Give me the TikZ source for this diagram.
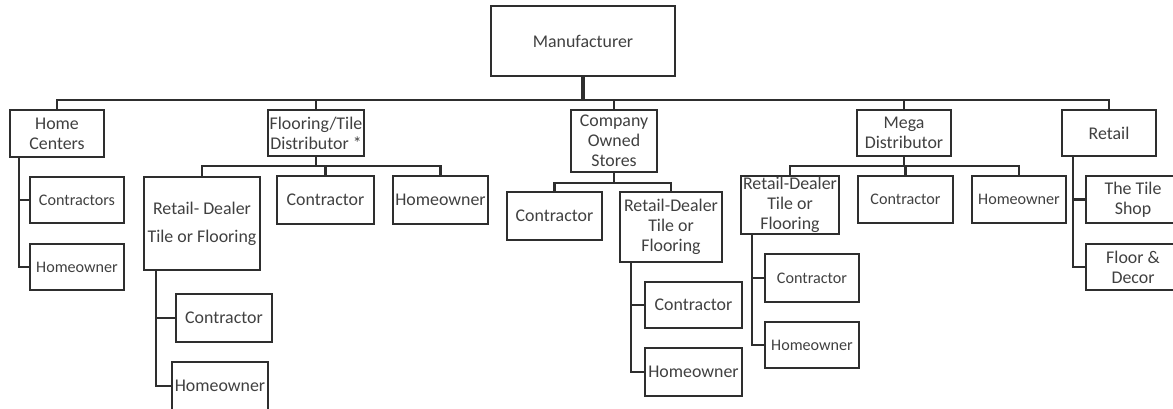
\documentclass[tikz,border=0pt]{standalone}
\usepackage{fontspec}
\setmainfont{Carlito}
\definecolor{linec}{HTML}{2E2E2E}
\definecolor{textc}{HTML}{404040}
\tikzset{
  box/.style={draw=linec, line width=1.55pt, rectangle, inner sep=0pt, align=center,
    text=textc, font=\fontsize{13.4}{15}\selectfont},
  small/.style={font=\fontsize{12.1}{14}\selectfont},
  bw/.style={minimum width=#1*0.75pt},
  bh/.style={minimum height=#1*0.75pt},
  conn/.style={draw=linec, line width=1.55pt},
}
\begin{document}
\begin{tikzpicture}[x=0.75pt,y=-0.75pt]
\clip (0,0) rectangle (1173,408);
% level 0
\node[box,bw=184,bh=70] (man) at (583,41) {Manufacturer};
% level 1
\node[box,bw=94,bh=47] (hc)  at (57,133.5) {Home\\Centers};
\node[box,bw=96,bh=46] (ftd) at (316,133) {Flooring/Tile\\Distributor *};
\node[box,bw=86,bh=62] (cos) at (614,141) {Company\\Owned\\Stores};
\node[box,bw=94,bh=46] (md)  at (904,133) {Mega\\Distributor};
\node[box,bw=94,bh=46] (ret) at (1109,133) {Retail};
% Home Centers children
\node[box,small,bw=94,bh=46] (hcC) at (77,200) {Contractors};
\node[box,small,bw=94,bh=46] (hcH) at (77,267) {Homeowner};
% Flooring children
\node[box,bw=116,bh=93,font=\fontsize{13.4}{21}\selectfont] (ftdR) at (202,223.5) {Retail- Dealer\\Tile or Flooring};
\node[box,bw=97,bh=48] (ftdC) at (325.5,200) {Contractor};
\node[box,bw=95,bh=48] (ftdH) at (440.5,200) {Homeowner};
\node[box,bw=96,bh=48] (ftdRC) at (224,318) {Contractor};
\node[box,bw=96,bh=48] (ftdRH) at (220,386) {Homeowner};
% Company Owned children
\node[box,bw=95,bh=48] (cosC) at (554.5,216) {Contractor};
\node[box,bw=102,bh=70] (cosR) at (671,227) {Retail-Dealer\\Tile or\\Flooring};
\node[box,bw=97,bh=46] (cosRC) at (693.5,305) {Contractor};
\node[box,bw=97,bh=48] (cosRH) at (693.5,372) {Homeowner};
% Mega children
\node[box,bw=98,bh=58] (mdR) at (790,205) {Retail-Dealer\\Tile or\\Flooring};
\node[box,small,bw=95,bh=47] (mdC) at (905.5,199.5) {Contractor};
\node[box,small,bw=94,bh=47] (mdH) at (1019,199.5) {Homeowner};
\node[box,small,bw=94,bh=48] (mdRC) at (812,278) {Contractor};
\node[box,small,bw=94,bh=46] (mdRH) at (812,345) {Homeowner};
% Retail children
\node[box,bw=94,bh=47] (retT) at (1133,199.5) {The Tile\\Shop};
\node[box,bw=94,bh=46] (retF) at (1133,267) {Floor \&\\Decor};

% bus coordinates
\coordinate (bus0) at (0,100);
\coordinate (busF) at (0,166);
\coordinate (busC) at (0,183);
\coordinate (busM) at (0,166);
\coordinate (vHC) at (19,0);
\coordinate (vFR) at (156,0);
\coordinate (vCR) at (631,0);
\coordinate (vMR) at (752,0);
\coordinate (vRT) at (1073,0);

% manufacturer to level 1
\draw[conn, line width=2.5pt] (man.south) -- (man.south |- bus0);
\foreach \n in {hc,ftd,cos,md,ret}{
  \draw[conn] (man.south |- bus0) -| (\n.north);
}
% Home Centers
\foreach \n in {hcC,hcH}{
  \draw[conn] (hc.south -| vHC) |- (\n.west);
}
% Flooring
\foreach \n in {ftdR,ftdC,ftdH}{
  \draw[conn] (ftd.south) -- (ftd.south |- busF) -| (\n.north);
}
\foreach \n in {ftdRC,ftdRH}{
  \draw[conn] (ftdR.south -| vFR) |- (\n.west);
}
% Company owned
\foreach \n in {cosC,cosR}{
  \draw[conn] (cos.south) -- (cos.south |- busC) -| (\n.north);
}
\foreach \n in {cosRC,cosRH}{
  \draw[conn] (cosR.south -| vCR) |- (\n.west);
}
% Mega
\foreach \n in {mdR,mdC,mdH}{
  \draw[conn] (md.south) -- (md.south |- busM) -| (\n.north);
}
\foreach \n in {mdRC,mdRH}{
  \draw[conn] (mdR.south -| vMR) |- (\n.west);
}
% Retail
\foreach \n in {retT,retF}{
  \draw[conn] (ret.south -| vRT) |- (\n.west);
}
\end{tikzpicture}
\end{document}
